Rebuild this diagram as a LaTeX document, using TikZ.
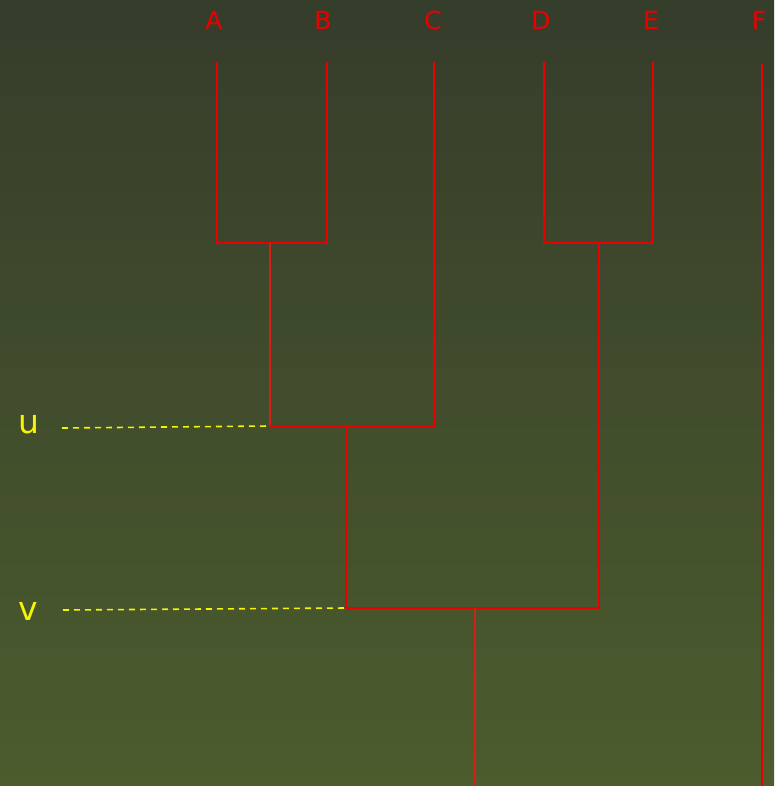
\documentclass[tikz,border=0pt]{standalone}
\usepackage{fontspec}
\setmainfont{DejaVu Sans}
\definecolor{bgtop}{RGB}{53,61,43}
\definecolor{bgbot}{RGB}{76,92,45}
\definecolor{treered}{RGB}{235,0,0}
\definecolor{stemred}{RGB}{215,30,20}
\definecolor{cutyellow}{RGB}{245,245,0}
\tikzset{
	branch/.style={treered, line width=1.8pt},
	stem/.style={stemred, line width=1.1pt},
	cut/.style={cutyellow, line width=1.6pt, dash pattern=on 6pt off 5pt},
	leaf/.style={text=treered, font=\fontsize{25}{28}\selectfont},
	level/.style={text=cutyellow, font=\fontsize{33}{36}\selectfont}
}
\begin{document}
\begin{tikzpicture}[
	x=1pt,
	y=-1pt,
	line cap=butt,
	line join=miter
	]
	% Hintergrund
	\shade[top color=bgtop, bottom color=bgbot] (0,0) rectangle (774,786);
	\useasboundingbox (0,0) rectangle (774,786);
	
	% Blätter
	\coordinate (A) at (217,62);
	\coordinate (B) at (327,62);
	\coordinate (C) at (434,62);
	\coordinate (D) at (544,62);
	\coordinate (E) at (653,62);
	\coordinate (F) at (762,64);
	
	% Verbindungspunkte
	\coordinate (A1) at (217,243);
	\coordinate (B1) at (327,243);
	\coordinate (AB) at (270,243);
	\coordinate (D1) at (544,243);
	\coordinate (E1) at (653,243);
	\coordinate (DE) at (599,243);
	
	\coordinate (U)  at (270,426);
	\coordinate (C1) at (434,426);
	\coordinate (UC) at (346,426);
	
	\coordinate (V)  at (346,608);
	\coordinate (V1) at (599,608);
	\coordinate (VR) at (475,608);
	\coordinate (R)  at (475,786);
	\coordinate (F1) at (762,786);
	
	% Enden der Schnittlinien
	\coordinate (u0) at (62,428);
	\coordinate (v0) at (63,610);
	
	% Äste
	\draw[branch] (A) -- (A1) -- (B1) -- (B);
	\draw[branch] (D) -- (D1) -- (E1) -- (E);
	\draw[stem] (AB) -- (U);
	\draw[branch] (U) -- (C1) -- (C);
	\draw[branch] (UC) -- (V) -- (V1) -- (DE);
	\draw[stem] (VR) -- (R);
	\draw[branch] (F) -- (F1);
	
	% Schnitte
	\draw[cut] (u0) -- (U);
	\draw[cut] (v0) -- (V);
	
	% Beschriftung
	\node[leaf] (lA) at (214,20) {A};
	\node[leaf] (lB) at (323,20) {B};
	\node[leaf] (lC) at (433,20) {C};
	\node[leaf] (lD) at (541,20) {D};
	\node[leaf] (lE) at (651,20) {E};
	\node[leaf] (lF) at (759,20) {F};
	
	\node[level] (lu) at (29,424) {u};
	\node[level] (lv) at (28,611) {v};
	
\end{tikzpicture}
\end{document}
